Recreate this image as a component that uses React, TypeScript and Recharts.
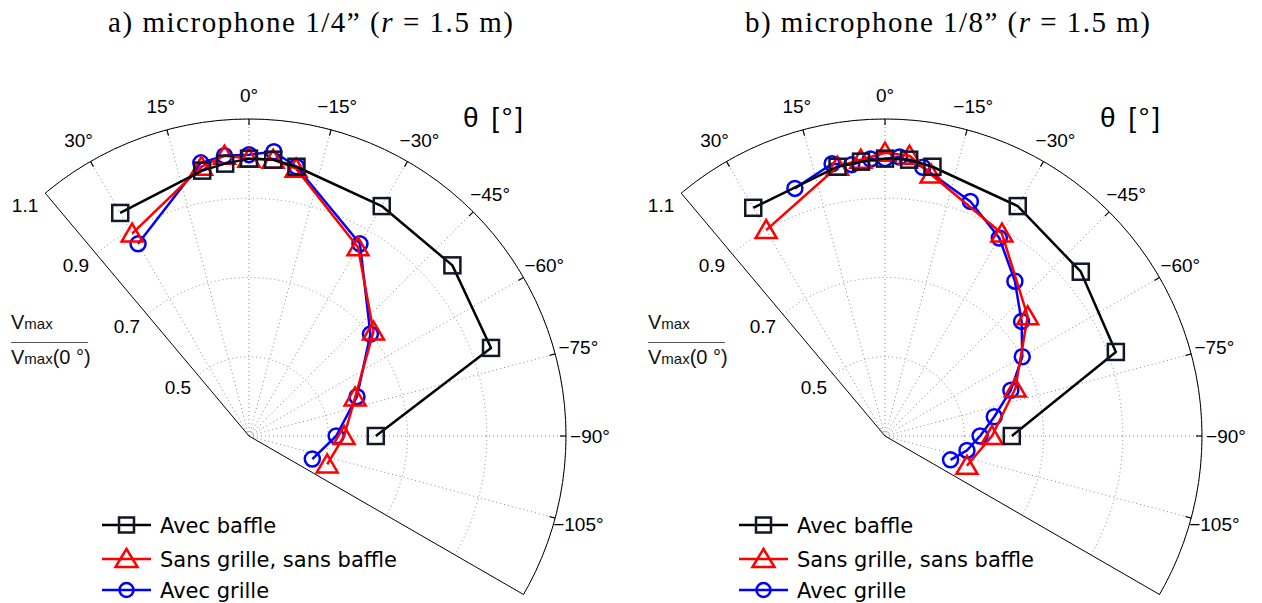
import React from 'react';
import { RadarChart, Radar, PolarGrid, PolarAngleAxis, PolarRadiusAxis } from 'recharts';

// polar axes: theta in degrees, 0° at the top, positive towards the left
const angleTicks = [30, 15, 0, -15, -30, -45, -60, -75, -90, -105];
const angleDomain: [number, number] = [-120, 40];
// the radial axis starts at 0.3 (centre of the plot) and ends at 1.1
const R_MIN = 0.3;
const R_MAX = 1.1;
const radiusTickValues = [0.3, 0.5, 0.7, 0.9, 1.1];

// a) microphone 1/4"
const anglesBaffleA = [30, 10, 5, 0, -5, -10, -30, -50, -70, -90];
const baffleA = [0.95, 0.98, 0.99, 1.0, 1.0, 0.99, 0.97, 0.97, 0.95, 0.62];
const anglesSansA = [30, 10, 5, 0, -5, -10, -30, -50, -70, -90, -110];
const sansA = [0.89, 0.99, 1.01, 1.0, 1.0, 0.985, 0.85, 0.71, 0.585, 0.54, 0.51];
const anglesGrilleA = [30, 10, 5, 0, -5, -10, -30, -50, -70, -90, -110];
const grilleA = [0.86, 1.0, 1.01, 1.01, 1.02, 0.99, 0.86, 0.7, 0.59, 0.52, 0.47];

// b) microphone 1/8"
const anglesBaffleB = [30, 10, 5, 0, -5, -10, -30, -50, -70, -90];
const baffleB = [0.965, 0.99, 0.995, 1.0, 1.0, 0.99, 0.97, 0.945, 0.92, 0.62];
const anglesSansB = [30, 10, 5, 0, -5, -10, -30, -50, -70, -90, -110];
const sansB = [0.9, 0.99, 1.0, 1.015, 1.01, 0.97, 0.89, 0.77, 0.65, 0.57, 0.52];
const anglesGrilleB = [20, 11, 7, 3, 0, -3, -8, -20, -30, -40, -50, -60, -70, -80, -90, -100, -110];
const grilleB = [0.965, 1.0, 0.99, 1.0, 1.0, 1.005, 0.985, 0.93, 0.877, 0.81, 0.75, 0.7, 0.638, 0.58, 0.54, 0.51, 0.476];

const seriesNames = ['Avec baffle', 'Sans grille, sans baffle', 'Avec grille'];

// layout
const W = 631;
const H = 603;
const CX = 249;
const CY = 436;
const R = 317;
const LABEL_GAP = 24;
const SANS = 'Liberation Sans, Arial, sans-serif';
const BLACK = '#000';
const SQUARE = '#16162a';
const RED = '#ff0000';
const BLUE = '#0000ff';

type Row = { angle: number; rel: number };

// radius is measured from R_MIN (the plot centre)
const toRows = (angles: number[], values: number[]): Row[] =>
  angles.map((a, i) => ({ angle: a, rel: values[i] - R_MIN }));

const relDomain: [number, number] = [0, Math.round((R_MAX - R_MIN) * 10) / 10];
const relTicks = radiusTickValues.map((v) => Math.round((v - R_MIN) * 10) / 10);

const pt = (r: number, deg: number) => [
  CX + r * Math.cos((deg * Math.PI) / 180),
  CY - r * Math.sin((deg * Math.PI) / 180),
];
const sectorPath = (r: number) => {
  const [x1, y1] = pt(r, -30);
  const [x2, y2] = pt(r, 130);
  return `M ${CX} ${CY} L ${x1} ${y1} A ${r} ${r} 0 0 0 ${x2} ${y2} Z`;
};

const chartProps = {
  width: W,
  height: H,
  cx: CX,
  cy: CY,
  innerRadius: 0,
  outerRadius: R,
  startAngle: -30,
  endAngle: 130,
  margin: { top: 0, right: 0, bottom: 0, left: 0 },
};

const radiusAxisProps = {
  type: 'number' as const,
  domain: relDomain,
  allowDataOverflow: true,
  allowDecimals: true,
  tickCount: relTicks.length,
  ticks: relTicks,
};

const bad = (p: any) => !Number.isFinite(p.cx) || !Number.isFinite(p.cy);

const squareDot = (p: any) =>
  bad(p) ? <g key={`s${p.index}`} /> : (
    <rect key={`s${p.index}`} x={p.cx - 8} y={p.cy - 8} width={16} height={16}
      fill="none" stroke={SQUARE} strokeWidth={2.5} />
  );

const triangleDot = (p: any) =>
  bad(p) ? <g key={`t${p.index}`} /> : (
    <polygon key={`t${p.index}`}
      points={`${p.cx},${p.cy - 10} ${p.cx - 10.5},${p.cy + 8} ${p.cx + 10.5},${p.cy + 8}`}
      fill="none" stroke={RED} strokeWidth={2.5} />
  );

const circleDot = (p: any) =>
  bad(p) ? <g key={`c${p.index}`} /> : (
    <circle key={`c${p.index}`} cx={p.cx} cy={p.cy} r={7.5} fill="none" stroke={BLUE} strokeWidth={2.5} />
  );

// open polyline through the radar points (the curves are not closed)
const openLine = (color: string) => (props: any) => {
  const pts = (props.points || []).filter((p: any) => Number.isFinite(p.x) && Number.isFinite(p.y));
  return (
    <polyline points={pts.map((p: any) => `${p.x},${p.y}`).join(' ')} fill="none" stroke={color}
      strokeWidth={2.5} strokeLinejoin="round" />
  );
};

const AngleTick = (props: any) => {
  const { x, y, payload } = props;
  const v = Number(payload.value);
  const deg = Number.isFinite(payload.coordinate) ? payload.coordinate : 90 + v;
  const c = Math.cos((deg * Math.PI) / 180);
  const s = Math.sin((deg * Math.PI) / 180);
  const label = v < 0 ? `\u2212${-v}°` : `${v}°`;
  return (
    <g>
      <line x1={x - c * (LABEL_GAP + 6)} y1={y + s * (LABEL_GAP + 6)} x2={x - c * LABEL_GAP} y2={y + s * LABEL_GAP}
        stroke="#000" strokeWidth={1.2} />
      <text x={x} y={y} textAnchor="middle" dominantBaseline="central" fontFamily={SANS} fontSize={19} fill="#000">
        {label}
      </text>
    </g>
  );
};

const RadiusTick = (props: any) => {
  const { x, y, payload } = props;
  const v = Number(payload.value) + R_MIN;
  if (v < 0.4) return <g />;
  return (
    <text x={x - 7} y={y + 12} textAnchor="end" dominantBaseline="central" fontFamily={SANS} fontSize={19} fill="#000">
      {v.toFixed(1)}
    </text>
  );
};

const layerStyle = (left: number): React.CSSProperties => ({ position: 'absolute', left, top: 0, width: W, height: H });

const GridLayer = ({ left, rows }: { left: number; rows: Row[] }) => (
  <div style={{ ...layerStyle(left), clipPath: `path('${sectorPath(R + 1.5)}')` }}>
    <RadarChart {...chartProps} data={rows}>
      <PolarGrid gridType="circle" stroke="#8a8a8a" strokeDasharray="1 3" />
      <PolarAngleAxis type="number" dataKey="angle" domain={angleDomain} allowDataOverflow ticks={angleTicks}
        axisLineType="circle" axisLine={{ stroke: '#000', strokeWidth: 1 }} tick={false} tickLine={false} />
      <PolarRadiusAxis {...radiusAxisProps} angle={130} axisLine={false} tick={false} />
    </RadarChart>
  </div>
);

type SeriesProps = {
  left: number;
  rows: Row[];
  color: string;
  dot: (p: any) => React.ReactElement;
  labels?: boolean;
  lowerEdge?: boolean;
};

const SeriesLayer = ({ left, rows, color, dot, labels, lowerEdge }: SeriesProps) => (
  <div style={layerStyle(left)}>
    <RadarChart {...chartProps} data={rows}>
      <PolarAngleAxis type="number" dataKey="angle" domain={angleDomain} allowDataOverflow ticks={angleTicks}
        axisLine={false} tickLine={false} tickSize={LABEL_GAP} tick={labels ? AngleTick : false} />
      <PolarRadiusAxis {...radiusAxisProps}
        angle={lowerEdge ? -30 : 130}
        axisLine={labels || lowerEdge ? { stroke: '#000', strokeWidth: 1 } : false}
        tickLine={false} tick={labels ? RadiusTick : false} />
      <Radar dataKey="rel" stroke={color} strokeWidth={2.5} fill="none" fillOpacity={0}
        shape={openLine(color)} dot={dot} activeDot={false} isAnimationActive={false} />
    </RadarChart>
  </div>
);

const Legend = ({ ox }: { ox: number }) => {
  const rows = [
    { y: 525, color: BLACK, kind: 'square' },
    { y: 559, color: RED, kind: 'triangle' },
    { y: 590, color: BLUE, kind: 'circle' },
  ];
  const mx = ox + 126.5;
  return (
    <g>
      {rows.map((r, i) => (
        <g key={i}>
          <line x1={ox + 102} x2={ox + 151} y1={r.y} y2={r.y} stroke={r.color} strokeWidth={2.5} />
          {r.kind === 'square' && (
            <rect x={mx - 7.5} y={r.y - 7.5} width={15} height={15} fill="none" stroke={SQUARE} strokeWidth={2.5} />
          )}
          {r.kind === 'triangle' && (
            <polygon points={`${mx},${r.y - 10} ${mx - 11},${r.y + 8} ${mx + 11},${r.y + 8}`}
              fill="none" stroke={RED} strokeWidth={2.5} />
          )}
          {r.kind === 'circle' && <circle cx={mx} cy={r.y} r={7} fill="none" stroke={BLUE} strokeWidth={2.5} />}
          <text x={ox + 160} y={r.y + 8} fontFamily="DejaVu Sans, sans-serif" fontSize={21} fill="#000">
            {seriesNames[i]}
          </text>
        </g>
      ))}
    </g>
  );
};

const Labels = ({ ox, size }: { ox: number; size: string }) => (
  <g>
    <text x={ox + 108} y={32} fontFamily="Liberation Serif, serif" fontSize={29} fill="#000"
      textLength={405} lengthAdjust="spacing">
      {`${ox === 0 ? 'a' : 'b'}) microphone ${size}\u201d (`}
      <tspan fontStyle="italic">r</tspan>
      {' = 1.5 m)'}
    </text>
    <text x={ox + 463} y={127} fontFamily={SANS} fontSize={28} fill="#000" textLength={60} lengthAdjust="spacing">
      θ [°]
    </text>
    <text x={ox + 11} y={329} fontFamily={SANS} fill="#111">
      <tspan fontSize={20}>V</tspan>
      <tspan fontSize={15}>max</tspan>
    </text>
    <line x1={ox + 11} x2={ox + 88} y1={342.5} y2={342.5} stroke="#555" strokeWidth={1} />
    <text x={ox + 11} y={364} fontFamily={SANS} fill="#111">
      <tspan fontSize={20}>V</tspan>
      <tspan fontSize={15}>max</tspan>
      <tspan fontSize={20}>(0 °)</tspan>
    </text>
    <Legend ox={ox} />
  </g>
);

const B_LEFT = 636;

export default function App() {
  const gA = toRows(anglesGrilleA, grilleA);
  const sA = toRows(anglesSansA, sansA);
  const bA = toRows(anglesBaffleA, baffleA);
  const gB = toRows(anglesGrilleB, grilleB);
  const sB = toRows(anglesSansB, sansB);
  const bB = toRows(anglesBaffleB, baffleB);
  return (
    <div style={{ position: 'absolute', left: 0, top: 0, width: 1262, height: 603, background: '#fff', overflow: 'hidden' }}>
      <GridLayer left={0} rows={gA} />
      <SeriesLayer left={0} rows={gA} color={BLUE} dot={circleDot} labels />
      <SeriesLayer left={0} rows={sA} color={RED} dot={triangleDot} lowerEdge />
      <SeriesLayer left={0} rows={bA} color={BLACK} dot={squareDot} />

      <GridLayer left={B_LEFT} rows={gB} />
      <SeriesLayer left={B_LEFT} rows={gB} color={BLUE} dot={circleDot} labels />
      <SeriesLayer left={B_LEFT} rows={sB} color={RED} dot={triangleDot} lowerEdge />
      <SeriesLayer left={B_LEFT} rows={bB} color={BLACK} dot={squareDot} />

      <svg width={1262} height={603} style={{ position: 'absolute', left: 0, top: 0, pointerEvents: 'none' }}>
        <Labels ox={0} size="1/4" />
        <Labels ox={B_LEFT + 1} size="1/8" />
      </svg>
    </div>
  );
}
